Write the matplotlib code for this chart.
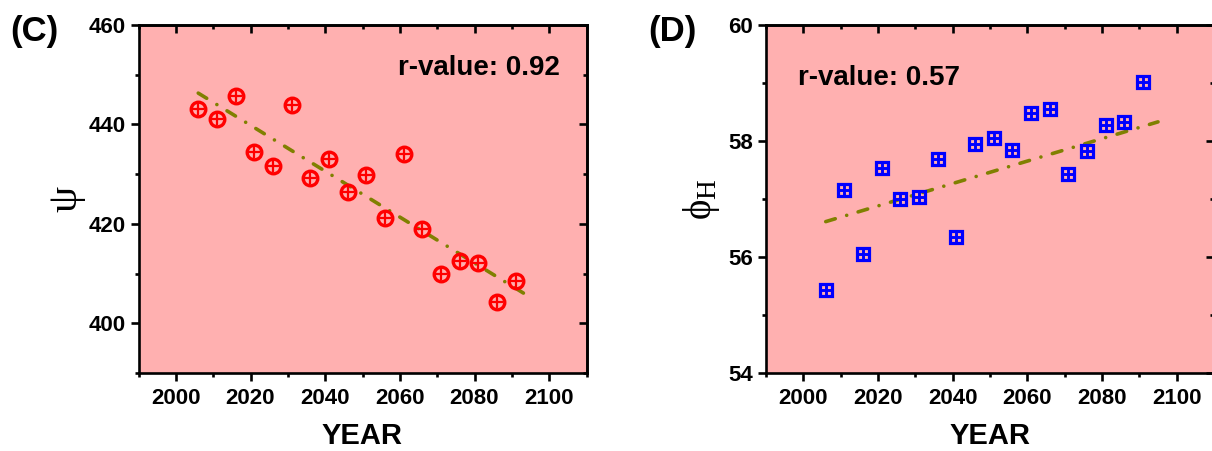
import numpy as np
import matplotlib
matplotlib.use("Agg")
import matplotlib.pyplot as plt
from matplotlib.ticker import MultipleLocator

# ---------------- data ----------------
years = [2006, 2011, 2016, 2021, 2026, 2031, 2036, 2041, 2046, 2051,
         2056, 2061, 2066, 2071, 2076, 2081, 2086, 2091]
psi = [443.2, 441.0, 445.7, 434.4, 431.6, 443.9, 429.2, 433.0, 426.4, 429.9,
       421.1, 434.1, 419.0, 409.9, 412.5, 412.2, 404.2, 408.6]
phi_h = [55.43, 57.15, 56.05, 57.53, 57.00, 57.04, 57.69, 56.35, 57.95, 58.06,
         57.84, 58.49, 58.55, 57.43, 57.83, 58.28, 58.32, 59.01]
fit_x = [2006, 2095]
fit_psi = [446.3, 405.2]
fit_phi = [56.61, 58.33]
r_values = ["r-value: 0.92", "r-value: 0.57"]
panel_labels = ["(C)", "(D)"]
xticks = [2000, 2020, 2040, 2060, 2080, 2100]

# ---------------- style ----------------
plt.rcParams['font.family'] = ['Liberation Sans', 'DejaVu Sans']
plt.rcParams['font.weight'] = 'bold'
BG = '#FFB0B0'
LINE = '#808000'
W, H = 1212, 451
fig = plt.figure(figsize=(W / 100, H / 100), dpi=100)

def px_axes(l, r, t, b):
    return fig.add_axes([l / W, (H - b) / H, (r - l) / W, (b - t) / H])

ax1 = px_axes(138.5, 586.5, 25, 373)
ax2 = px_axes(766, 1214, 25, 373)

def style(ax, ylim, ymaj, ymin):
    ax.set_facecolor(BG)
    ax.set_xlim(1990, 2110)
    ax.set_ylim(*ylim)
    ax.set_xticks(xticks)
    ax.xaxis.set_minor_locator(MultipleLocator(10))
    ax.yaxis.set_major_locator(MultipleLocator(ymaj))
    ax.yaxis.set_minor_locator(MultipleLocator(ymin))
    for s in ax.spines.values():
        s.set_linewidth(1.9)
    ax.tick_params(which='major', direction='out', length=5.5, width=1.9,
                   labelsize=16, pad=4)
    ax.tick_params(which='minor', direction='out', length=3, width=1.9)
    ax.tick_params(axis='x', which='major', pad=5)
    for lab in ax.get_xticklabels() + ax.get_yticklabels():
        lab.set_fontweight('bold')
    # mirrored inward ticks on top / right
    sx = ax.secondary_xaxis('top')
    sx.set_xticks(xticks)
    sx.xaxis.set_minor_locator(MultipleLocator(10))
    sx.tick_params(which='major', direction='in', length=5.5, width=1.9, labeltop=False)
    sx.tick_params(which='minor', direction='in', length=3, width=1.9)
    sy = ax.secondary_yaxis('right')
    sy.yaxis.set_major_locator(MultipleLocator(ymaj))
    sy.yaxis.set_minor_locator(MultipleLocator(ymin))
    sy.tick_params(which='major', direction='in', length=5.5, width=1.9, labelright=False)
    sy.tick_params(which='minor', direction='in', length=3, width=1.9)
    for s in list(sx.spines.values()) + list(sy.spines.values()):
        s.set_linewidth(1.9)
    ax.set_xlabel('YEAR', fontsize=21, fontweight='bold', labelpad=10)

style(ax1, (390, 460), 20, 10)
style(ax2, (54, 60), 2, 1)

dash = (0, (2.75, 3.3, 0.01, 3.3))
# panel C
ax1.plot(fit_x, fit_psi, color=LINE, lw=2.6, linestyle=dash,
         dash_capstyle='round', zorder=2)
ax1.plot(years, psi, linestyle='none', marker='o', ms=10.5, mfc='none',
         mec='#FF0000', mew=2.4, zorder=3)
ax1.plot(years, psi, linestyle='none', marker='+', ms=9, mec='#FF0000',
         mew=1.6, zorder=3)
ax1.set_ylabel('ψ', fontsize=30, family=['Liberation Serif', 'DejaVu Serif'],
               fontweight='normal', labelpad=2)

# panel D
ax2.plot(fit_x, fit_phi, color=LINE, lw=2.6, linestyle=dash,
         dash_capstyle='round', zorder=2)
ax2.plot(years, phi_h, linestyle='none', marker='s', ms=8.3, mfc='none',
         mec='#0000FF', mew=2.3, zorder=3)
ax2.plot(years, phi_h, linestyle='none', marker='+', ms=8.3, mec='#0000FF',
         mew=2.1, zorder=3)
ax2.set_ylabel(r'$\mathregular{\phi_H}$', fontsize=28,
               family=['Liberation Serif', 'DejaVu Serif'],
               fontweight='normal', labelpad=4)

ax1.text(0.94, 0.876, r_values[0], transform=ax1.transAxes, ha='right',
         va='center', fontsize=20, fontweight='bold')
ax2.text(0.072, 0.848, r_values[1], transform=ax2.transAxes, ha='left',
         va='center', fontsize=20, fontweight='bold')

fig.text(10 / W, 1 - 31 / H, panel_labels[0], fontsize=25, fontweight='bold',
         ha='left', va='center')
fig.text(648 / W, 1 - 31 / H, panel_labels[1], fontsize=25, fontweight='bold',
         ha='left', va='center')

fig.savefig('out.png', dpi=100)
